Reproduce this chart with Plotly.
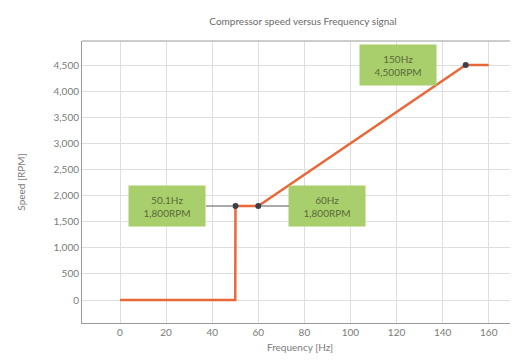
import plotly.graph_objects as go

freq = [0, 50, 50.1, 60, 150, 160]
speed = [0, 0, 1800, 1800, 4500, 4500]
marker_freq = [50.1, 60, 150]
marker_speed = [1800, 1800, 4500]
x_ticks = [0, 20, 40, 60, 80, 100, 120, 140, 160]
y_ticks = [0, 500, 1000, 1500, 2000, 2500, 3000, 3500, 4000, 4500]
y_tick_labels = ["0", "500", "1,000", "1,500", "2,000", "2,500", "3,000", "3,500", "4,000", "4,500"]
labels = ["50.1Hz<br>1,800RPM", "60Hz<br>1,800RPM", "150Hz<br>4,500RPM"]

FONT = "Lato"
GRAY = "#7a7a7a"

fig = go.Figure()
fig.add_trace(go.Scatter(x=freq, y=speed, mode="lines",
                         line=dict(color="#E8683A", width=2.5), hoverinfo="skip"))
fig.add_trace(go.Scatter(x=marker_freq, y=marker_speed, mode="markers",
                         marker=dict(color="#3c3f4a", size=6), hoverinfo="skip"))

# annotation boxes
offsets = [(-68, 0), (69, 0), (-68, 0)]
for i, (fx, sy) in enumerate(zip(marker_freq, marker_speed)):
    ax, ay = offsets[i]
    fig.add_annotation(x=fx, y=sy, text=labels[i], showarrow=True, arrowhead=0,
                       arrowcolor="#555" if i < 2 else "rgba(0,0,0,0)", arrowwidth=1,
                       ax=ax, ay=ay, bgcolor="#A8CF6B", borderpad=3,
                       font=dict(family=FONT, size=10, color="#5b6a3a"),
                       width=70, height=34, standoff=3)

fig.update_layout(
    width=510, height=355,
    margin=dict(l=74, r=0, t=33, b=40, autoexpand=False),
    paper_bgcolor="white", plot_bgcolor="white",
    showlegend=False,
    title=dict(text="Compressor speed versus Frequency signal", x=295 / 510, xanchor="center",
               y=1 - 13 / 355, yanchor="middle",
               font=dict(family=FONT, size=10, color="#6a6a6a")),
    xaxis=dict(range=[-16.5, 172.7], tickvals=x_ticks, showgrid=True, automargin=False,
               gridcolor="#dedede", gridwidth=1, zeroline=False,
               showline=True, linecolor="#9a9a9a", linewidth=1,
               tickfont=dict(family=FONT, size=10, color=GRAY),
               title=dict(text="Frequency [Hz]", font=dict(family=FONT, size=10, color=GRAY), standoff=6)),
    yaxis=dict(range=[-440, 4960], tickvals=y_ticks, ticktext=y_tick_labels, showgrid=True, automargin=False,
               gridcolor="#dedede", gridwidth=1, zeroline=False,
               showline=True, linecolor="#9a9a9a", linewidth=1, ticks="", ticklabelstandoff=0,
               tickfont=dict(family=FONT, size=10, color=GRAY),
               title=dict(text="Speed [RPM]", font=dict(family=FONT, size=10, color=GRAY), standoff=26)),
    shapes=[dict(type="line", xref="paper", yref="paper", x0=0, x1=1, y0=1, y1=1,
                 line=dict(color="#9a9a9a", width=1))],
)

fig.write_html("out.html")
